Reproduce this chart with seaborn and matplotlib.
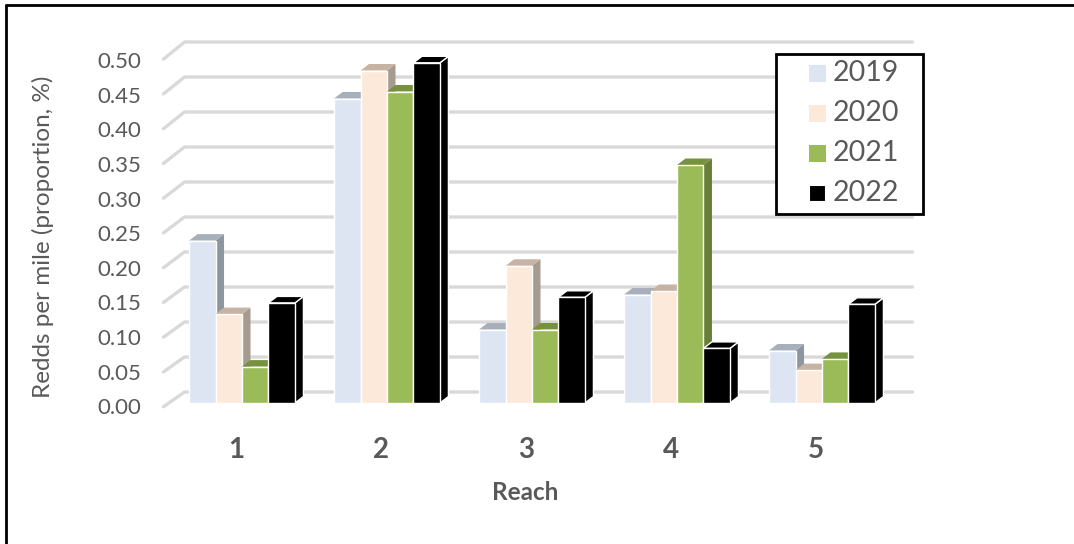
import numpy as np
import pandas as pd
import matplotlib
matplotlib.use("Agg")
import matplotlib.pyplot as plt
from matplotlib.patches import Polygon, Rectangle
from matplotlib.lines import Line2D
import seaborn as sns

# ---- data ----
reaches = ["1", "2", "3", "4", "5"]
years = ["2019", "2020", "2021", "2022"]
v2019 = [0.232, 0.435, 0.105, 0.155, 0.075]
v2020 = [0.127, 0.475, 0.196, 0.160, 0.047]
v2021 = [0.052, 0.445, 0.105, 0.340, 0.063]
v2022 = [0.143, 0.486, 0.151, 0.078, 0.141]
yticks = [0.00, 0.05, 0.10, 0.15, 0.20, 0.25, 0.30, 0.35, 0.40, 0.45, 0.50]

front_cols = ["#DCE5F1", "#FDE9DA", "#9BBB59", "#000000"]
top_cols = ["#A7B0BA", "#C7B3A3", "#76923C", "#000000"]
side_cols = ["#8C969F", "#A69B8F", "#677F36", "#000000"]

df = pd.DataFrame({
    "Reach": reaches * 4,
    "Year": sum([[y] * 5 for y in years], []),
    "Value": v2019 + v2020 + v2021 + v2022,
})

sns.set_theme(style="white")
plt.rcParams["font.family"] = ["Lato", "DejaVu Sans"]
txt_c = "#595959"

W, H = 1074, 544
fig = plt.figure(figsize=(W / 100, H / 100), dpi=100)
left_px, right_px = 169.5, 894.5
ax = fig.add_axes([left_px / W, (H - 403) / H, (right_px - left_px) / W, 350 / H])

sns.barplot(data=df, x="Reach", y="Value", hue="Year", palette=front_cols,
            width=0.73, gap=0, edgecolor="white", linewidth=1.0,
            saturation=1, legend=False, ax=ax, zorder=10)
ax.set_xlim(-0.5, 4.5)
ax.set_ylim(0, 0.5)
for s in ax.spines.values():
    s.set_visible(False)
ax.set_yticks(yticks)
ax.set_yticklabels([])
ax.tick_params(axis="both", length=0)
ax.set_xticks(range(5))
ax.set_xticklabels([])
ax.set_xlabel("")
ax.set_ylabel("")

grid_c = "#D9D9D9"
inv = ax.transData.inverted()
base = ax.transData.transform((-0.5, 0))
for v in yticks:
    p_back_l = ax.transData.transform((-0.5, v)) + np.array([15, 11])
    p_back_r = ax.transData.transform((4.5, v)) + np.array([18, 11])
    p_lvl = ax.transData.transform((-0.5, v))
    p_front = base + (p_lvl - base) * 0.993 + np.array([-6, -3.7])
    a, b, c = inv.transform(p_front), inv.transform(p_back_l), inv.transform(p_back_r)
    ax.add_line(Line2D([a[0], b[0], c[0]], [a[1], b[1], c[1]], color=grid_c,
                       lw=2.4, zorder=1, clip_on=False, solid_capstyle="round"))
    lbl_y = base[1] + (p_lvl[1] - base[1]) * 0.9894 - 5.3
    fig.text((p_front[0] - 22) / W, lbl_y / H, f"{v:.2f}", ha="right",
             va="center", fontsize=16, color=txt_c)

# 3-D top and side faces of each bar
dx, dy = 8.5, 6.5
bars = ax.patches[:20]
for k, p in enumerate(bars):
    j = k // 5
    x0, y0 = p.get_x(), p.get_y()
    w, h = p.get_width(), p.get_height()
    p.set_zorder(10 + 2 * j)
    tl = ax.transData.transform((x0, y0 + h))
    tr = ax.transData.transform((x0 + w, y0 + h))
    br = ax.transData.transform((x0 + w, y0))
    off = np.array([dx, dy])
    top = [tl, tr, tr + off, tl + off]
    side = [br, tr, tr + off, br + off]
    ec = "white" if j == 3 else "none"
    for poly, col in ((side, side_cols[j]), (top, top_cols[j])):
        pts = inv.transform(np.array(poly))
        ax.add_patch(Polygon(pts, closed=True, facecolor=col, edgecolor=ec,
                             lw=1.0, zorder=9 + 2 * j, clip_on=False))

# category labels and axis titles
for i, r in enumerate(reaches):
    px = ax.transData.transform((i, 0))[0] - 6
    fig.text(px / W, 1 - 450 / H, r, ha="center", va="center",
             fontsize=20, fontweight="bold", color=txt_c)
fig.text(525 / W, 1 - 493 / H, "Reach", ha="center", va="center",
         fontsize=17.5, fontweight="bold", color=txt_c)
fig.text(43 / W, 1 - 237 / H, "Redds per mile (proportion, %)", ha="center",
         va="center", rotation=90, fontsize=17.5, color=txt_c)

# legend (box, swatches, labels)
fig.add_artist(Rectangle((776 / W, 1 - 214 / H), 147 / W, 160 / H,
                         transform=fig.transFigure, facecolor="white",
                         edgecolor="black", lw=2, zorder=20))
for i, yr in enumerate(years):
    yc = 73 + 40 * i
    fig.add_artist(Rectangle((809 / W, 1 - (yc + 8.5) / H), 17 / W, 17 / H,
                             transform=fig.transFigure, facecolor=front_cols[i],
                             edgecolor="white" if i == 3 else "none", lw=1.5,
                             zorder=21))
    fig.text(833 / W, 1 - yc / H, yr, ha="left", va="center", fontsize=20.5,
             color=txt_c, zorder=22)

# outer frame (top and left)
fig.add_artist(Line2D([6 / W, 6 / W], [0, 1 - 5 / H], color="black", lw=2,
                      transform=fig.transFigure))
fig.add_artist(Line2D([6 / W, 1], [1 - 5 / H, 1 - 5 / H], color="black", lw=2,
                      transform=fig.transFigure))

fig.savefig("out.png", dpi=100, facecolor="white")
